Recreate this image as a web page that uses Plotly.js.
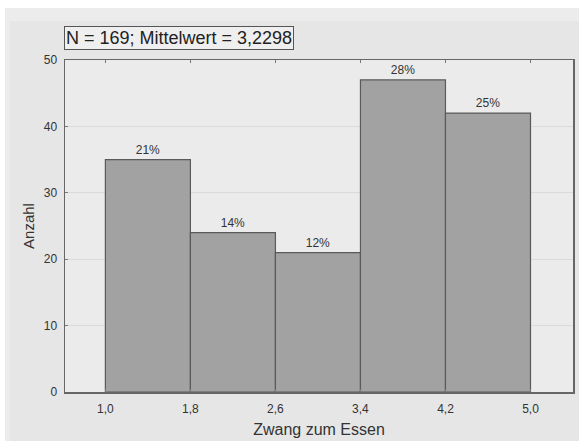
<!DOCTYPE html>
<html>
<head>
<meta charset="utf-8">
<script src="https://cdn.plot.ly/plotly-3.0.1.min.js"></script>
<style>html,body{margin:0;padding:0;background:#fff;}#chart{width:584px;height:447px;}</style>
</head>
<body>
<div id="chart"></div>
<script>
const binEdges = [1.0, 1.8, 2.6, 3.4, 4.2, 5.0];
const edgeLabels = ["1,0", "1,8", "2,6", "3,4", "4,2", "5,0"];
const counts = [35, 24, 21, 47, 42];
const percentLabels = ["21%", "14%", "12%", "28%", "25%"];
const infoText = "N = 169; Mittelwert = 3,2298";
const xTitle = "Zwang zum Essen";
const yTitle = "Anzahl";

const centers = counts.map((c, i) => (binEdges[i] + binEdges[i + 1]) / 2);
const widths = counts.map((c, i) => binEdges[i + 1] - binEdges[i]);

const W = 584, H = 447, L = 65, R = 11, T = 60, B = 55;
const pw = W - L - R, ph = H - T - B;
const px = v => (v - L) / pw;
const py = v => (H - B - v) / ph;

const trace = {
  type: 'bar',
  x: centers,
  y: counts,
  width: widths,
  text: percentLabels,
  textposition: 'outside',
  cliponaxis: false,
  textfont: {family: 'Liberation Sans, Arial, sans-serif', size: 12, color: '#333'},
  marker: {color: '#a2a2a2', line: {color: '#5a5a5a', width: 1.2}},
  hoverinfo: 'none'
};

const layout = {
  width: W, height: H,
  margin: {l: L, r: R, t: T, b: B},
  paper_bgcolor: '#ffffff',
  plot_bgcolor: 'rgba(0,0,0,0)',
  showlegend: false,
  bargap: 0,
  font: {family: 'Liberation Sans, Arial, sans-serif', color: '#333'},
  xaxis: {
    range: [0.62, 5.4],
    tickvals: binEdges,
    ticktext: edgeLabels,
    ticks: 'inside', ticklen: 3, tickcolor: '#777',
    ticklabelstandoff: 5,
    showline: true, linecolor: '#666', linewidth: 1.5, mirror: 'ticks',
    showgrid: false, zeroline: false,
    tickfont: {size: 12, color: '#333'},
    title: {text: xTitle, font: {size: 16, color: '#333'}, standoff: 9}
  },
  yaxis: {
    range: [0, 50],
    dtick: 10,
    ticks: 'inside', ticklen: 3, tickcolor: '#777',
    ticklabelstandoff: 4,
    showline: true, linecolor: '#666', linewidth: 1.5, mirror: true,
    showgrid: true, gridcolor: '#dadada', gridwidth: 1,
    zeroline: false,
    tickfont: {size: 12, color: '#333'},
    title: {text: yTitle, font: {size: 15, color: '#333'}, standoff: 5}
  },
  shapes: [
    {type: 'rect', xref: 'paper', yref: 'paper', layer: 'below',
     x0: px(5), x1: px(579), y0: py(441), y1: py(8),
     fillcolor: '#ececec', line: {width: 0}},
    {type: 'rect', xref: 'paper', yref: 'paper', layer: 'below',
     x0: px(10), x1: px(579), y0: py(441), y1: py(21),
     fillcolor: '#e6e6e6', line: {width: 0}},
    {type: 'rect', xref: 'paper', yref: 'paper', layer: 'below',
     x0: 0, x1: 1, y0: 0, y1: 1,
     fillcolor: '#ebebeb', line: {width: 0}}
  ],
  annotations: [{
    xref: 'paper', yref: 'paper',
    x: px(64), y: py(38), xanchor: 'left', yanchor: 'middle',
    text: infoText, showarrow: false,
    font: {size: 18, color: '#222'},
    bgcolor: '#efefef', bordercolor: '#555', borderwidth: 1, borderpad: 1
  }]
};

Plotly.newPlot('chart', [trace], layout, {staticPlot: true, displayModeBar: false});
</script>
</body>
</html>
